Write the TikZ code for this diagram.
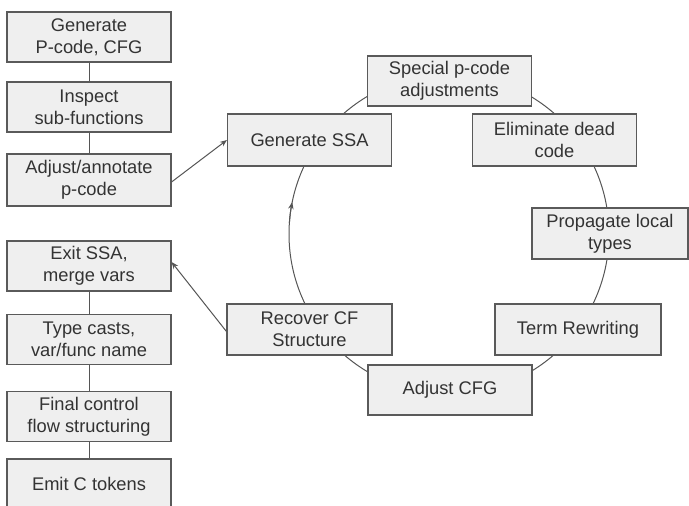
\documentclass[tikz,border=0pt]{standalone}
\usepackage{fontspec}
\setmainfont{Liberation Sans}
\usetikzlibrary{arrows.meta}
\definecolor{boxfill}{HTML}{EFEFEF}
\definecolor{boxline}{HTML}{5A5A5A}
\definecolor{txt}{HTML}{333333}
\definecolor{linec}{HTML}{555555}
\begin{document}
\begin{tikzpicture}[x=1pt,y=-1pt,
  stepbox/.style={draw=boxline, fill=boxfill, line width=1.1pt, rectangle, inner sep=0pt,
    text=txt, font=\fontsize{18.3}{21.8}\selectfont, align=center,
    minimum width=164pt, minimum height=50pt},
  conn/.style={draw=linec, line width=1pt},
  arr/.style={conn, -{Stealth[length=7pt,width=5.5pt]}}]
\useasboundingbox (0,0) rectangle (689,506);
\clip (0,0) rectangle (689,506);
% cycle
\coordinate (c) at (449,234);
\draw[conn] (c) circle[radius=160];
\draw[arr] ([shift={(184:160)}]c) arc[start angle=184, end angle=191.5, radius=160];
% left column
\node[stepbox] (l1) at (89,37) {Generate\\P-code, CFG};
\node[stepbox] (l2) at (89,107) {Inspect\\sub-functions};
\node[stepbox, minimum height=52pt] (l3) at (89,180) {Adjust/annotate\\p-code};
\node[stepbox] (l4) at (89,266) {Exit SSA,\\merge vars};
\node[stepbox] (l5) at (89,339.5) {Type casts,\\var/func name};
\node[stepbox] (l6) at (89,416.5) {Final control\\flow structuring};
\node[stepbox] (l7) at (89,484) {Emit C tokens};
\draw[conn] (l1) -- (l2);
\draw[conn] (l2) -- (l3);
\draw[conn] (l4) -- (l5);
\draw[conn] (l5) -- (l6);
\draw[conn] (l6) -- (l7);
% cycle boxes
\node[stepbox] (spec) at (449.5,81) {Special p-code\\adjustments};
\node[stepbox, minimum height=52pt] (gssa) at (309.5,140) {Generate SSA};
\node[stepbox, minimum height=52pt] (elim) at (554.5,140) {Eliminate dead\\code};
\node[stepbox, minimum width=156pt, minimum height=51pt] (prop) at (610,233.5) {Propagate local\\types};
\node[stepbox, minimum width=166pt, minimum height=51pt] (term) at (578,329.5) {Term Rewriting};
\node[stepbox, minimum width=165pt, minimum height=51pt] (rcf) at (309.5,329.5) {Recover CF\\Structure};
\node[stepbox] (adj) at (450,390) {Adjust CFG};
% arrows to/from cycle
\draw[arr] ([yshift=-2]l3.east) -- (gssa.west);
\draw[arr] ([yshift=-2]rcf.west) -- ([yshift=4]l4.east);
\end{tikzpicture}
\end{document}
